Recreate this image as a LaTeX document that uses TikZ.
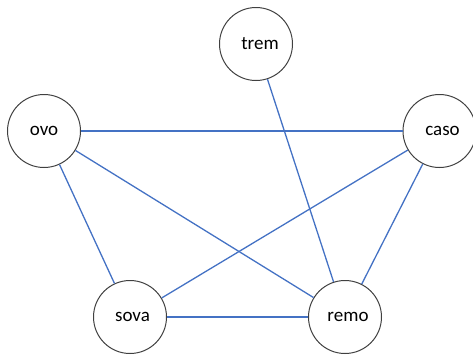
\documentclass[tikz,border=0pt]{standalone}
\usepackage{fontspec}
\setmainfont{Carlito}
\definecolor{edgeblue}{HTML}{4472C4}
\definecolor{ringgray}{HTML}{404040}
\begin{document}
\begin{tikzpicture}[x=1pt,y=-1pt,
  vert/.style={circle,draw=ringgray,line width=1pt,minimum size=73pt,inner sep=0pt,font=\fontsize{19}{22}\selectfont},
  edge/.style={draw=edgeblue,line width=1.3pt}]
\useasboundingbox (0,0) rectangle (473,354);
\node[vert] (trem) at (256,44) {\hspace{8pt}trem};
\node[vert] (ovo) at (44,131) {ovo};
\node[vert] (caso) at (439.5,131) {\hspace{6pt}caso};
\node[vert] (sova) at (130,317) {\hspace{5pt}sova};
\node[vert] (remo) at (345,317) {\hspace{6pt}remo};
\draw[edge] (trem) -- (remo);
\draw[edge] (ovo) -- (caso);
\draw[edge] (ovo) -- (remo);
\draw[edge] (ovo) -- (sova);
\draw[edge] (caso) -- (sova);
\draw[edge] (caso) -- (remo);
\draw[edge] (sova) -- (remo);
\end{tikzpicture}
\end{document}
